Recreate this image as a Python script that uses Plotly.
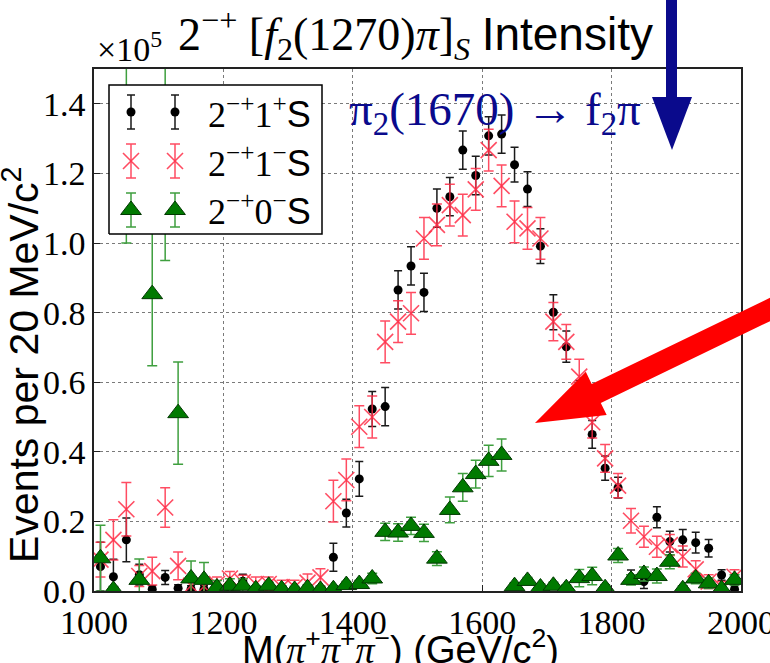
import plotly.graph_objects as go

# ---------------- data (values in units of 1e5 events per 20 MeV/c^2) ----------------
mass = [1010, 1030, 1050, 1070, 1090, 1110, 1130, 1150, 1170, 1190,
        1210, 1230, 1250, 1270, 1290, 1310, 1330, 1350, 1370, 1390,
        1410, 1430, 1450, 1470, 1490, 1510, 1530, 1550, 1570, 1590,
        1610, 1630, 1650, 1670, 1690, 1710, 1730, 1750, 1770, 1790,
        1810, 1830, 1850, 1870, 1890, 1910, 1930, 1950, 1970, 1990]

s11p_val = [0.070, 0.041, 0.147, 0.047, 0.005, 0.039, 0.008, 0.005, 0.005, 0.005,
            0.005, 0.028, 0.005, 0.005, 0.005, 0.003, 0.004, 0.005, 0.097, 0.224,
            0.322, 0.523, 0.530, 0.865, 0.934, 0.858, 1.100, 1.133, 1.267, 1.194,
            1.308, 1.313, 1.225, 1.155, 0.991, 0.801, 0.702, 0.560, 0.450, 0.353,
            0.297, 0.040, 0.027, 0.212, 0.142, 0.147, 0.139, 0.123, 0.046, 0.005]
s11p_err = [0.070, 0.050, 0.063, 0.030, 0.010, 0.020, 0.010, 0.010, 0.010, 0.010,
            0.010, 0.020, 0.010, 0.010, 0.010, 0.010, 0.010, 0.010, 0.040, 0.040,
            0.050, 0.050, 0.055, 0.055, 0.055, 0.055, 0.055, 0.055, 0.055, 0.055,
            0.055, 0.055, 0.050, 0.050, 0.050, 0.050, 0.045, 0.045, 0.040, 0.035,
            0.030, 0.020, 0.020, 0.030, 0.030, 0.030, 0.030, 0.025, 0.015, 0.010]

s11m_val = [0.090, 0.147, 0.235, 0.043, 0.057, 0.240, 0.072, 0.015, 0.013, 0.020,
            0.036, 0.025, 0.020, 0.020, 0.011, 0.011, 0.024, 0.039, 0.258, 0.319,
            0.472, 0.500, 0.716, 0.774, 0.798, 1.013, 1.052, 1.109, 1.080, 1.154,
            1.267, 1.164, 1.061, 1.042, 1.013, 0.774, 0.716, 0.616, 0.485, 0.381,
            0.303, 0.202, 0.156, 0.127, 0.132, 0.099, 0.062, 0.027, 0.012, 0.041]
s11m_err = [0.050, 0.058, 0.077, 0.030, 0.040, 0.057, 0.040, 0.020, 0.020, 0.020,
            0.020, 0.020, 0.020, 0.020, 0.020, 0.020, 0.025, 0.025, 0.060, 0.060,
            0.060, 0.060, 0.060, 0.060, 0.060, 0.060, 0.060, 0.060, 0.060, 0.060,
            0.060, 0.060, 0.060, 0.060, 0.060, 0.055, 0.050, 0.050, 0.045, 0.040,
            0.035, 0.035, 0.030, 0.030, 0.030, 0.030, 0.025, 0.020, 0.015, 0.020]

s10m_val = [0.094, 0.003, 1.300, 0.032, 0.853, 1.250, 0.511, 0.036, 0.032, 0.010,
            0.015, 0.015, 0.005, 0.015, 0.005, 0.003, 0.008, 0.003, 0.005, 0.017,
            0.020, 0.036, 0.170, 0.168, 0.187, 0.167, 0.093, 0.233, 0.298, 0.336,
            0.374, 0.391, 0.014, 0.029, 0.010, 0.015, 0.008, 0.037, 0.043, 0.008,
            0.102, 0.032, 0.049, 0.043, 0.084, 0.005, 0.036, 0.022, 0.005, 0.032]
s10m_err = [0.095, 0.010, 0.300, 0.060, 0.206, 0.300, 0.147, 0.050, 0.050, 0.020,
            0.020, 0.020, 0.010, 0.010, 0.010, 0.010, 0.010, 0.010, 0.010, 0.010,
            0.010, 0.015, 0.025, 0.025, 0.025, 0.025, 0.020, 0.037, 0.040, 0.040,
            0.045, 0.046, 0.010, 0.010, 0.010, 0.010, 0.010, 0.025, 0.025, 0.010,
            0.020, 0.015, 0.020, 0.020, 0.020, 0.010, 0.015, 0.015, 0.010, 0.015]

x_ticks = [1000, 1200, 1400, 1600, 1800, 2000]
y_ticks = [0.0, 0.2, 0.4, 0.6, 0.8, 1.0, 1.2, 1.4]
y_ticktext = ["0.0", "0.2", "0.4", "0.6", "0.8", "1.0", "1.2", "1.4"]
legend_labels = ["2<sup>\u2212+</sup>1<sup>+</sup><span style=\"font-family:'Liberation Sans'\">S</span>",
                 "2<sup>\u2212+</sup>1<sup>\u2212</sup><span style=\"font-family:'Liberation Sans'\">S</span>",
                 "2<sup>\u2212+</sup>0<sup>\u2212</sup><span style=\"font-family:'Liberation Sans'\">S</span>"]

# ---------------- styling ----------------
W, H = 770, 663
L, R, T, B = 94, 29, 69, 72
PW, PH = W - L - R, H - T - B
SERIF = "Liberation Serif"
SANS = "Liberation Sans"
BLACK = "#000000"
RED = "rgba(255,45,70,0.85)"
GREEN = "#007a00"
GREEN_ERR = "#3f9f3f"
NAVY = "#0a0a8c"


def px(x):
    return (x - L) / PW


def py(y):
    return (H - B - y) / PH


fig = go.Figure()

styles = [
    dict(marker=dict(symbol="circle", size=9, color=BLACK),
         err=dict(color="#1a1a1a", thickness=1.5, width=4)),
    dict(marker=dict(symbol="x-thin", size=16, color=RED, line=dict(color=RED, width=1.6)),
         err=dict(color=RED, thickness=1.5, width=5)),
    dict(marker=dict(symbol="triangle-up", size=18, color=GREEN, line=dict(color="#013801", width=1)),
         err=dict(color=GREEN_ERR, thickness=1.5, width=5)),
]
series = [(s11p_val, s11p_err), (s11m_val, s11m_err), (s10m_val, s10m_err)]

for (vals, errs), st in zip(series, styles):
    fig.add_trace(go.Scatter(
        x=mass, y=vals, mode="markers", marker=st["marker"],
        error_y=dict(type="data", array=errs, visible=True, **st["err"]),
        showlegend=False, cliponaxis=True))

# ---------------- hand-made legend (matplotlib style, 2 points per entry) ----------------
box_x0, box_x1 = px(109), px(322)
box_y0, box_y1 = py(234), py(85)
fig.add_trace(go.Scatter(
    x=[box_x0, box_x1, box_x1, box_x0, box_x0],
    y=[box_y0, box_y0, box_y1, box_y1, box_y0],
    mode="lines", fill="toself", fillcolor="white",
    line=dict(color="black", width=1.5), xaxis="x2", yaxis="y2",
    showlegend=False, hoverinfo="skip"))

row_y = [py(112), py(161), py(210)]
sym_x = [px(131), px(175)]
err_half = 17 / PH
for yr, st, lab in zip(row_y, styles, legend_labels):
    fig.add_trace(go.Scatter(
        x=sym_x, y=[yr, yr], mode="markers", marker=st["marker"],
        error_y=dict(type="data", array=[err_half, err_half], visible=True, **st["err"]),
        xaxis="x2", yaxis="y2", showlegend=False, hoverinfo="skip"))
    fig.add_annotation(x=px(206), y=yr, xref="paper", yref="paper", text=lab,
                       showarrow=False, xanchor="left", yanchor="middle",
                       font=dict(family=SERIF, size=36, color="black"))

# ---------------- arrows ----------------
shapes = []
# blue vertical arrow
shapes.append(dict(type="rect", xref="paper", yref="paper",
                   x0=px(666), x1=px(677), y0=py(-5), y1=py(99),
                   fillcolor=NAVY, line=dict(width=0)))
shapes.append(dict(type="path", xref="paper", yref="paper",
                   path="M {:.5f},{:.5f} L {:.5f},{:.5f} L {:.5f},{:.5f} Z".format(
                       px(652), py(97), px(692), py(97), px(672), py(150)),
                   fillcolor=NAVY, line=dict(width=0)))

# red diagonal arrow
tip = (535.0, 423.0)
tail = (800.0, 295.0)
dx, dy = tail[0] - tip[0], tail[1] - tip[1]
ln = (dx * dx + dy * dy) ** 0.5
ux, uy = dx / ln, dy / ln
nx, ny = -uy, ux
head_len, head_hw, shaft_hw = 68.0, 24.0, 10.5
bx, by = tip[0] + head_len * ux, tip[1] + head_len * uy
pts = [
    tip,
    (bx + head_hw * nx, by + head_hw * ny),
    (bx + shaft_hw * nx, by + shaft_hw * ny),
    (tail[0] + shaft_hw * nx, tail[1] + shaft_hw * ny),
    (tail[0] - shaft_hw * nx, tail[1] - shaft_hw * ny),
    (bx - shaft_hw * nx, by - shaft_hw * ny),
    (bx - head_hw * nx, by - head_hw * ny),
]
path = "M " + " L ".join("{:.5f},{:.5f}".format(px(a), py(b)) for a, b in pts) + " Z"
shapes.append(dict(type="path", xref="paper", yref="paper", path=path,
                   fillcolor="#ff0000", line=dict(width=0)))

# ---------------- text ----------------
fig.add_annotation(
    x=px(415), y=py(34), xref="paper", yref="paper", showarrow=False,
    xanchor="center", yanchor="middle",
    text="2<sup>\u2212+</sup> [<i>f</i><sub>2</sub>(1270)<i>\u03c0</i>]<sub><i>S</i></sub> "
         "<span style=\"font-family:'Liberation Sans'\">Intensity</span>",
    font=dict(family=SERIF, size=46, color="black"))
fig.add_annotation(
    x=px(95), y=py(47), xref="paper", yref="paper", showarrow=False,
    xanchor="left", yanchor="middle", text="\u00d710<sup>5</sup>",
    font=dict(family=SERIF, size=34, color="black"))
fig.add_annotation(
    x=px(347), y=py(112), xref="paper", yref="paper", showarrow=False,
    xanchor="left", yanchor="middle",
    text="\u03c0<sub>2</sub>(1670) \u2192 f<sub>2</sub>\u03c0",
    font=dict(family=SERIF, size=47, color=NAVY))
fig.add_annotation(
    x=px(21), y=py(365), xref="paper", yref="paper", showarrow=False,
    xanchor="center", yanchor="middle", textangle=-90,
    text="Events per 20 MeV/c<sup>2</sup>",
    font=dict(family=SANS, size=41, color="black"))
pi_i = "<span style=\"font-family:'Liberation Serif'\"><i>\u03c0</i></span>"
fig.add_annotation(
    x=px(400), y=py(621), xref="paper", yref="paper", showarrow=False,
    xanchor="center", yanchor="top",
    text="M(" + pi_i + "<sup>+</sup>" + pi_i + "<sup>+</sup>" + pi_i + "<sup>\u2212</sup>) (GeV/c<sup>2</sup>)",
    font=dict(family=SANS, size=38, color="black"))

axis_common = dict(showgrid=True, gridcolor="#7a7a7a", griddash="dot", gridwidth=1,
                   showline=True, linecolor="#222222", linewidth=1.5, mirror=True,
                   ticks="inside", ticklen=6, tickcolor="#222222", zeroline=False,
                   ticklabeloverflow="allow", automargin=False,
                   tickfont=dict(family=SERIF, size=34, color="black"))

fig.update_layout(
    width=W, height=H,
    margin=dict(l=L, r=R, t=T, b=B, pad=0, autoexpand=False),
    paper_bgcolor="white", plot_bgcolor="white",
    showlegend=False,
    shapes=shapes,
    xaxis=dict(range=[1000, 2000], tickvals=x_ticks, ticktext=[str(v) for v in x_ticks],
               **axis_common),
    yaxis=dict(range=[0, 1.5], tickvals=y_ticks, ticktext=y_ticktext, **axis_common),
    xaxis2=dict(overlaying="x", anchor="y2", range=[0, 1], visible=False, fixedrange=True),
    yaxis2=dict(overlaying="y", anchor="x2", range=[0, 1], visible=False, fixedrange=True),
)

fig.write_html("out.html")
